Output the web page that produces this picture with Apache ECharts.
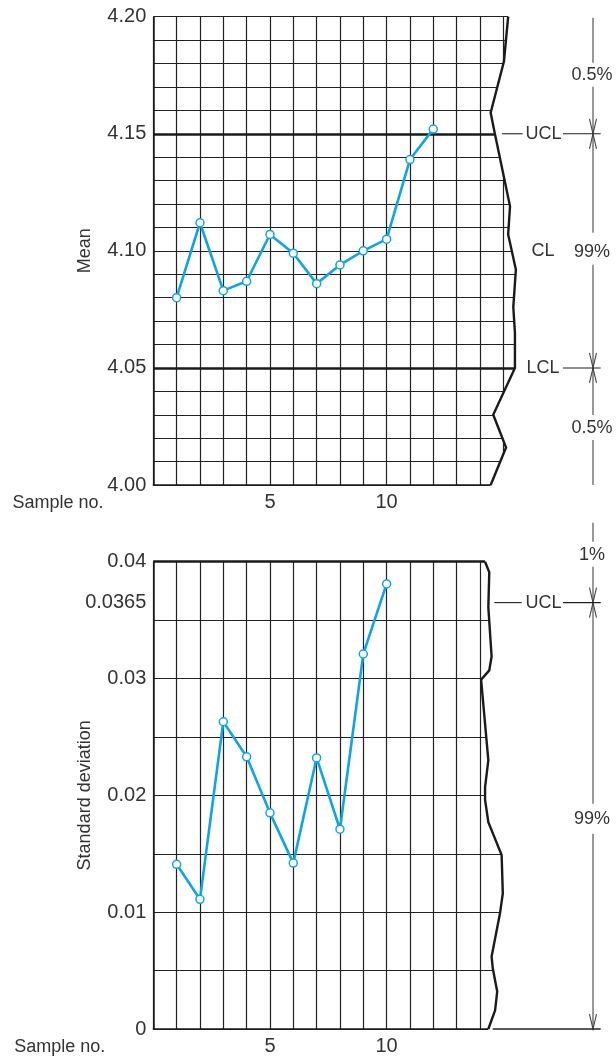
<!DOCTYPE html>
<html>
<head>
<meta charset="utf-8">
<script src="https://cdn.jsdelivr.net/npm/echarts@6/dist/echarts.min.js"></script>
<style>
  html, body { margin: 0; padding: 0; background: #fff; }
  #main { width: 616px; height: 1059px; }
</style>
</head>
<body>
<div id="main"></div>
<script>
var FONT = '"Liberation Sans", Arial, sans-serif';

// sample numbers and the plotted statistics
var meanSamples = [1, 2, 3, 4, 5, 6, 7, 8, 9, 10, 11, 12];
var meanValues = [4.080, 4.112, 4.083, 4.087, 4.107, 4.099, 4.086, 4.094, 4.100, 4.105, 4.139, 4.152];
var sdSamples = [1, 2, 3, 4, 5, 6, 7, 8, 9, 10];
var sdValues = [0.0141, 0.0111, 0.0263, 0.0233, 0.0185, 0.0142, 0.0232, 0.0171, 0.0321, 0.0381];

// control limits
var meanUCL = 4.15;
var meanCL = 4.10;
var meanLCL = 4.05;
var sdUCL = 0.0365;

// tick labels
var sampleTicks = [5, 10];
var meanTicks = [4.00, 4.05, 4.10, 4.15, 4.20];
var sdTicks = [0, 0.01, 0.02, 0.03, 0.0365, 0.04];

// torn right edge of the chart paper, [sample, value]
var meanEdge = [[15.21, 4.200], [15.03, 4.181], [14.46, 4.159], [14.64, 4.150], [15.29, 4.119],
  [15.21, 4.107], [15.54, 4.092], [15.43, 4.076], [15.50, 4.065], [15.50, 4.050],
  [14.57, 4.030], [15.12, 4.016], [14.46, 4.000]];
var sdEdge = [[14.22, 0.0400], [14.40, 0.0391], [14.36, 0.0361], [14.50, 0.0319], [14.40, 0.0307],
  [14.05, 0.0299], [14.36, 0.0230], [14.22, 0.0207], [14.22, 0.0196], [14.36, 0.0177],
  [14.93, 0.0149], [14.98, 0.0116], [14.86, 0.0099], [14.50, 0.0062], [14.55, 0.0052],
  [14.74, 0.0032], [14.65, 0.0016], [14.36, 0.0000]];

var BLUE = '#12a4e0';
var GRIDLINE = '#222';

function zip(xs, ys) {
  return xs.map(function (x, i) { return [x, ys[i]]; });
}

function xAxisFor(gridIndex) {
  return {
    gridIndex: gridIndex, type: 'value', min: 0, max: 16, interval: 1,
    axisLine: { show: true, onZero: false, lineStyle: { color: '#1a1a1a', width: 1.5 } },
    axisTick: { show: false },
    axisLabel: { customValues: sampleTicks, margin: 7, fontSize: 20, color: '#333', fontFamily: FONT },
    splitLine: { show: true, lineStyle: { color: GRIDLINE, width: 1.2 } },
    name: 'Sample no.', nameLocation: 'start', nameGap: 48,
    nameTextStyle: { fontSize: 18, color: '#333', fontFamily: FONT, verticalAlign: 'top', padding: [9, 0, 0, 0] }
  };
}

function yAxisFor(gridIndex, min, max, interval, ticks, name, fmt) {
  return {
    gridIndex: gridIndex, type: 'value', min: min, max: max, interval: interval,
    axisLine: { show: true, lineStyle: { color: '#1a1a1a', width: 1.5 } },
    axisTick: { show: false },
    axisLabel: { customValues: ticks, formatter: fmt, margin: 7, fontSize: 20, color: '#333', fontFamily: FONT },
    splitLine: { show: true, lineStyle: { color: GRIDLINE, width: 1.2 } },
    name: name, nameLocation: 'middle', nameGap: 59, nameMoveOverlap: false,
    nameTextStyle: { fontSize: 18, color: '#333', fontFamily: FONT }
  };
}

function lineSeries(gridIndex, data, limits) {
  return {
    type: 'line', xAxisIndex: gridIndex, yAxisIndex: gridIndex,
    data: data, symbol: 'circle', symbolSize: 8, z: 3,
    lineStyle: { color: BLUE, width: 2.6 },
    itemStyle: { color: '#fff', borderColor: BLUE, borderWidth: 1.5 },
    markLine: {
      silent: true, symbol: 'none', z: 2,
      label: { show: false },
      lineStyle: { color: '#1a1a1a', width: 2.6, type: 'solid' },
      data: limits.map(function (v) { return { yAxis: v }; })
    }
  };
}

// white paper beyond the torn edge, then the edge itself
function edgeSeries(gridIndex, edge) {
  return {
    type: 'custom', xAxisIndex: gridIndex, yAxisIndex: gridIndex,
    data: [edge[0]], clip: false, silent: true, z: 10,
    renderItem: function (params, api) {
      var pts = edge.map(function (p) { return api.coord(p); });
      var first = pts[0], last = pts[pts.length - 1];
      var right = params.coordSys.x + params.coordSys.width + 8;
      var mask = [[first[0], first[1] - 4]].concat(pts,
        [[last[0], last[1] + 4], [right, last[1] + 4], [right, first[1] - 4]]);
      return {
        type: 'group',
        children: [
          { type: 'polygon', shape: { points: mask }, style: { fill: '#fff' } },
          { type: 'polyline', shape: { points: pts }, style: { stroke: '#1a1a1a', lineWidth: 2.4, fill: null } }
        ]
      };
    }
  };
}

var chart = echarts.init(document.getElementById('main'));

var option = {
  animation: false,
  textStyle: { fontFamily: FONT },
  grid: [
    { left: 153.3, top: 16.7, width: 373.3, height: 468.3 },
    { left: 153.3, top: 561.7, width: 373.3, height: 467.3 }
  ],
  xAxis: [xAxisFor(0), xAxisFor(1)],
  yAxis: [
    yAxisFor(0, 4.0, 4.2, 0.01, meanTicks, 'Mean', function (v) { return v.toFixed(2); }),
    yAxisFor(1, 0, 0.04, 0.005, sdTicks, 'Standard deviation', function (v) { return String(+v.toFixed(4)); })
  ],
  series: [
    lineSeries(0, zip(meanSamples, meanValues), [meanUCL, meanLCL]),
    lineSeries(1, zip(sdSamples, sdValues), [sdUCL]),
    edgeSeries(0, meanEdge),
    edgeSeries(1, sdEdge)
  ]
};
chart.setOption(option);

// annotation column on the right, hung off the axis scales
function py(gridIndex, v) { return chart.convertToPixel({ gridIndex: gridIndex }, [0, v])[1]; }

var AX = 593;
var INK = '#444';
function vline(y1, y2) {
  return { type: 'line', z: 100, silent: true, shape: { x1: AX, y1: y1, x2: AX, y2: y2 }, style: { stroke: INK, lineWidth: 1.1 } };
}
function hline(x1, x2, y, w) {
  return { type: 'line', z: 100, silent: true, shape: { x1: x1, y1: y, x2: x2, y2: y }, style: { stroke: '#222', lineWidth: w || 1.1 } };
}
function arrow(y, dir) {
  // dir 1: tip at y pointing down, dir -1: tip at y pointing up
  return { type: 'polyline', z: 100, silent: true,
    shape: { points: [[AX - 3.5, y - dir * 15], [AX, y], [AX + 3.5, y - dir * 15]] },
    style: { stroke: INK, lineWidth: 1.1, fill: null } };
}
function label(x, y, text) {
  return { type: 'text', z: 100, silent: true, x: x, y: y,
    style: { text: text, fontSize: 18, fontFamily: FONT, fill: '#333', align: 'center', verticalAlign: 'middle' } };
}

var mTop = py(0, 4.2), mU = py(0, meanUCL), mC = py(0, meanCL), mL = py(0, meanLCL), mBot = py(0, 4.0);
var sTop = py(1, 0.04), sU = py(1, sdUCL), sBot = py(1, 0), s99 = py(1, 0.018);

var elements = [
  // mean chart
  vline(mTop + 1, mTop + 46), label(592, mTop + 58, '0.5%'),
  vline(mTop + 70, mU), arrow(mU, 1),
  vline(mU, mC - 18), arrow(mU, -1),
  label(592, mC + 1, '99%'),
  vline(mC + 14, mL), arrow(mL, 1),
  vline(mL, mL + 47), arrow(mL, -1),
  label(592, mL + 60, '0.5%'),
  vline(mL + 72, mBot),
  hline(502, 522.7, mU), label(543.5, mU, 'UCL'), hline(563, 600.7, mU),
  label(543, mC, 'CL'),
  label(543, mL, 'LCL'), hline(563, 600.7, mL),
  // standard deviation chart
  vline(sTop - 39, sTop - 20), label(592, sTop - 7, '1%'),
  vline(sTop + 5, sU), arrow(sU, 1),
  vline(sU, s99 - 15), arrow(sU, -1),
  label(592, s99, '99%'),
  vline(s99 + 15, sBot), arrow(sBot, 1),
  hline(492.7, 600.7, sBot, 1.4),
  hline(494.3, 521.7, sU), label(543.5, sU, 'UCL'), hline(563, 600.7, sU)
];

chart.setOption({ graphic: { elements: elements } });
</script>
</body>
</html>
